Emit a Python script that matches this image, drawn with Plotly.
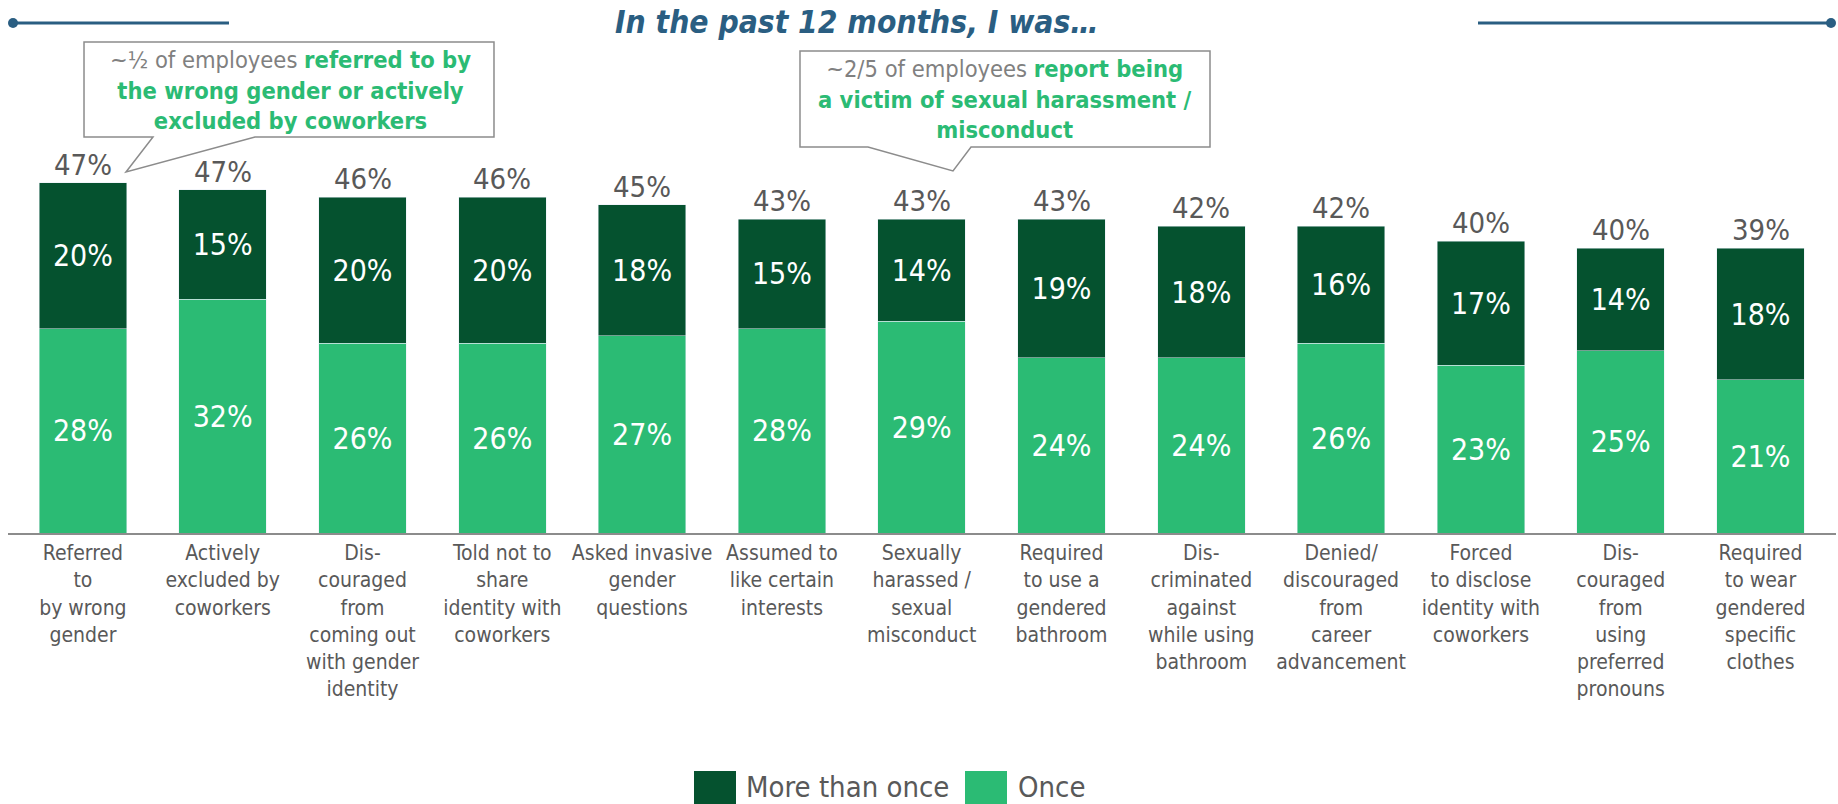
import plotly.graph_objects as go

# ---- data -------------------------------------------------------------
categories = [
    "Referred<br>to<br>by wrong<br>gender",
    "Actively<br>excluded by<br>coworkers",
    "Dis-<br>couraged<br>from<br>coming out<br>with gender<br>identity",
    "Told not to<br>share<br>identity with<br>coworkers",
    "Asked invasive<br>gender<br>questions",
    "Assumed to<br>like certain<br>interests",
    "Sexually<br>harassed /<br>sexual<br>misconduct",
    "Required<br>to use a<br>gendered<br>bathroom",
    "Dis-<br>criminated<br>against<br>while using<br>bathroom",
    "Denied/<br>discouraged<br>from<br>career<br>advancement",
    "Forced<br>to disclose<br>identity with<br>coworkers",
    "Dis-<br>couraged<br>from<br>using<br>preferred<br>pronouns",
    "Required<br>to wear<br>gendered<br>specific<br>clothes",
]
once = [28, 32, 26, 26, 27, 28, 29, 24, 24, 26, 23, 25, 21]
more_than_once = [20, 15, 20, 20, 18, 15, 14, 19, 18, 16, 17, 14, 18]
totals = [47, 47, 46, 46, 45, 43, 43, 43, 42, 42, 40, 40, 39]
series_names = ["More than once", "Once"]
title_text = "In the past 12 months, I was…"
callout_left = ("~½ of employees ", ["referred to by", "the wrong gender or actively", "excluded by coworkers"])
callout_right = ("~2/5 of employees ", ["report being", "a victim of sexual harassment /", "misconduct"])

# ---- style ------------------------------------------------------------
DARK = "#05522F"
LIGHT = "#2BBB74"
GREY_TEXT = "#595959"
CALLOUT_GREY = "#808080"
BLUE = "#2A5E82"
TEXT_FONT = "DejaVu Sans Condensed, DejaVu Sans, sans-serif"
NUM_FONT = "DejaVu Sans Condensed, DejaVu Sans, sans-serif"

W, H = 1838, 804
ML, MR, MT, MB = 8, 2, 0, 271
PW, PH = W - ML - MR, H - MT - MB
PX_PER_PCT = 7.3
BAR_C0, BAR_STEP = 82.9, 139.8


def px(x):
    """pixel x -> paper x"""
    return (x - ML) / PW


def py(y):
    """pixel y (from top) -> paper y"""
    return (H - MB - y) / PH


fig = go.Figure()
fig.add_trace(go.Bar(
    x=categories, y=once, name=series_names[1], marker_color=LIGHT,
    text=[f"{v}%" for v in once], textposition="inside", insidetextanchor="middle",
    textangle=0, textfont=dict(family=NUM_FONT, size=30, color="white"),
    showlegend=False,
))
fig.add_trace(go.Bar(
    x=categories, y=more_than_once, name=series_names[0], marker_color=DARK,
    text=[f"{v}%" for v in more_than_once], textposition="inside", insidetextanchor="middle",
    textangle=0, textfont=dict(family=NUM_FONT, size=30, color="white"),
    showlegend=False,
))

annotations = []
# totals above each stack
for c, o, m, t in zip(categories, once, more_than_once, totals):
    annotations.append(dict(
        x=c, y=o + m, xref="x", yref="y", text=f"{t}%", showarrow=False,
        yanchor="bottom", yshift=-1,
        font=dict(family=NUM_FONT, size=29, color=GREY_TEXT),
    ))

# title
annotations.append(dict(
    x=px(857), y=py(22), xref="paper", yref="paper", text=f"<b><i>{title_text}</i></b>",
    showarrow=False, xanchor="center", yanchor="middle",
    font=dict(family=TEXT_FONT, size=31.5, color=BLUE),
))


def callout_text(parts):
    lead, bold_lines = parts
    first = f"<span style='color:{CALLOUT_GREY}'>{lead}</span><b>{bold_lines[0]}</b>"
    rest = [f"<b>{s}</b>" for s in bold_lines[1:]]
    return "<br>".join([first] + rest)


annotations.append(dict(
    x=px(290), y=py(90), xref="paper", yref="paper", text=callout_text(callout_left),
    showarrow=False, xanchor="center", yanchor="middle", align="center",
    font=dict(family=TEXT_FONT, size=23.5, color=LIGHT),
))
annotations.append(dict(
    x=px(1005), y=py(100), xref="paper", yref="paper", text=callout_text(callout_right),
    showarrow=False, xanchor="center", yanchor="middle", align="center",
    font=dict(family=TEXT_FONT, size=23.5, color=LIGHT),
))

# legend (drawn by hand to get large swatches)
legend_items = [(series_names[0], DARK, 694, 744), (series_names[1], LIGHT, 965, 1016)]
shapes = []
for name, color, sx, tx in legend_items:
    shapes.append(dict(type="rect", xref="paper", yref="paper",
                       x0=px(sx), x1=px(sx + 42), y0=py(771), y1=py(815),
                       fillcolor=color, line=dict(width=0)))
    annotations.append(dict(
        x=px(tx), y=py(787), xref="paper", yref="paper", text=name, showarrow=False,
        xanchor="left", yanchor="middle",
        font=dict(family=TEXT_FONT, size=29, color=GREY_TEXT),
    ))


def bubble(left, top, right, bottom, base_l, base_r, tip):
    pts = [(left, top), (right, top), (right, bottom), (base_r, bottom), tip,
           (base_l, bottom), (left, bottom)]
    path = "M " + " L ".join(f"{px(a):.5f},{py(b):.5f}" for a, b in pts) + " Z"
    return dict(type="path", xref="paper", yref="paper", path=path,
                fillcolor="white", line=dict(color="#8C8C8C", width=1.5), layer="above")


shapes.insert(0, bubble(84, 42, 494, 137, 153, 255, (126, 172)))
shapes.insert(1, bubble(800, 51, 1210, 147, 868, 971, (953, 171)))

# decorative title rules
for x0, x1, dot in [(9, 229, 13), (1478, 1831, 1831)]:
    shapes.append(dict(type="line", xref="paper", yref="paper",
                       x0=px(x0), x1=px(x1), y0=py(23), y1=py(23),
                       line=dict(color=BLUE, width=3)))
    shapes.append(dict(type="circle", xref="paper", yref="paper",
                       x0=px(dot - 5), x1=px(dot + 5), y0=py(28), y1=py(18),
                       fillcolor=BLUE, line=dict(width=0)))

fig.update_layout(
    width=W, height=H,
    margin=dict(l=ML, r=MR, t=MT, b=MB),
    barmode="stack", bargap=0.374,
    plot_bgcolor="white", paper_bgcolor="white",
    showlegend=False,
    annotations=annotations, shapes=shapes,
    xaxis=dict(
        range=[(ML - BAR_C0) / BAR_STEP, (W - MR - BAR_C0) / BAR_STEP],
        showline=True, linecolor="#8C8C8C", linewidth=1.5,
        ticks="", showgrid=False, zeroline=False,
        tickfont=dict(family=TEXT_FONT, size=21, color=GREY_TEXT),
        tickangle=0,
    ),
    yaxis=dict(range=[0, PH / PX_PER_PCT], visible=False, showgrid=False, zeroline=False),
)

fig.write_html("out.html")
